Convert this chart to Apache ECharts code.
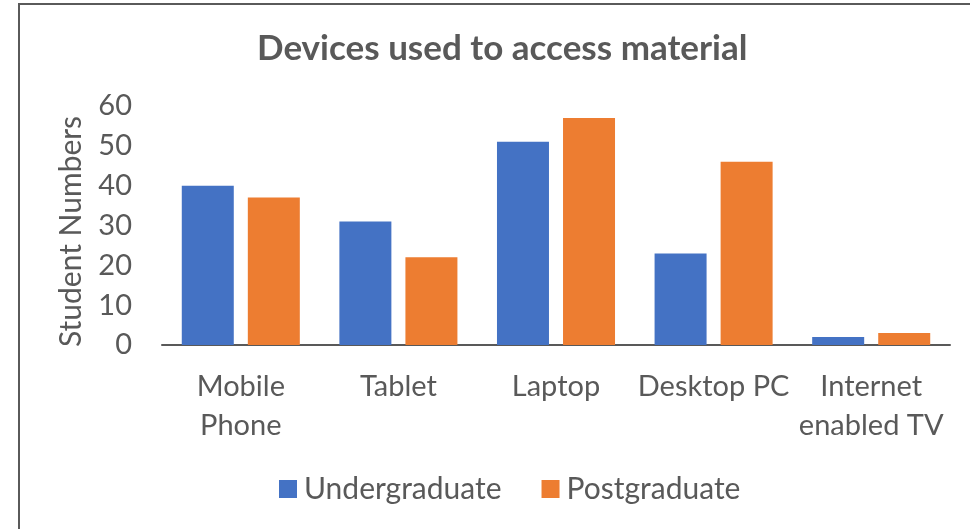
<!DOCTYPE html>
<html><head><meta charset="utf-8">
<script src="https://cdn.jsdelivr.net/npm/echarts@6/dist/echarts.min.js"></script>
<style>html,body{margin:0;padding:0;background:#fff}#c{width:970px;height:529px}</style>
</head><body><div id="c"></div>
<script>
const categories = ['Mobile\nPhone', 'Tablet', 'Laptop', 'Desktop PC', 'Internet\nenabled TV'];
const undergraduate = [40, 31, 51, 23, 2];
const postgraduate = [37, 22, 57, 46, 3];
const yTicks = [0, 10, 20, 30, 40, 50, 60];

const font = 'Lato';
const grey = '#595959';
const chart = echarts.init(document.getElementById('c'), null, {renderer: 'canvas'});
chart.setOption({
  animation: false,
  backgroundColor: '#fff',
  graphic: [{type: 'rect', shape: {x: 19, y: 4, width: 1000, height: 600}, style: {fill: 'none', stroke: '#5a5a5a', lineWidth: 2}, silent: true}],
  title: {text: 'Devices used to access material', left: 252, top: 26,
    textStyle: {fontFamily: font, fontWeight: 'bold', fontSize: 35, color: grey}},
  legend: {bottom: 20, left: 274, itemWidth: 18, itemHeight: 18, itemGap: 40, icon: 'rect',
    textStyle: {fontFamily: font, fontSize: 30, color: grey, padding: [0, 0, 0, 2]}},
  grid: {left: 162, right: 20, top: 106, bottom: 184},
  xAxis: {type: 'category', data: categories,
    axisLine: {lineStyle: {color: grey, width: 2}}, axisTick: {show: false},
    axisLabel: {fontFamily: font, fontSize: 29, color: grey, margin: 22, lineHeight: 39, interval: 0}},
  yAxis: {type: 'value', min: yTicks[0], max: yTicks[yTicks.length - 1], interval: 10,
    name: 'Student Numbers', nameLocation: 'middle', nameGap: 76,
    nameTextStyle: {fontFamily: font, fontSize: 30, color: grey, padding: [0, 12, 0, 0]},
    axisLine: {show: false}, axisTick: {show: false}, splitLine: {show: false},
    axisLabel: {fontFamily: font, fontSize: 29, color: grey, margin: 30}},
  series: [
    {name: 'Undergraduate', type: 'bar', data: undergraduate, barWidth: 52, barGap: '27%', itemStyle: {color: '#4472C4'}},
    {name: 'Postgraduate', type: 'bar', data: postgraduate, barWidth: 52, itemStyle: {color: '#ED7D31'}}
  ]
});
</script></body></html>
